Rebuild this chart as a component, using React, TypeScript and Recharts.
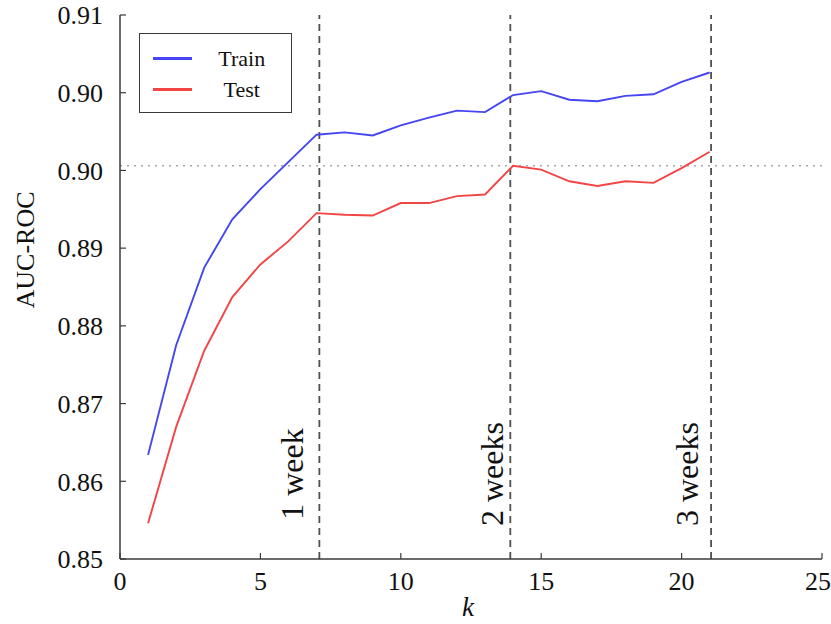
import { LineChart, Line, XAxis, YAxis, ReferenceLine, Legend } from "recharts";

// AUC-ROC against k (days of history)
const kValues = [1, 2, 3, 4, 5, 6, 7, 8, 9, 10, 11, 12, 13, 14, 15, 16, 17, 18, 19, 20, 21];
const trainAuc = [
  0.8634, 0.8775, 0.8875, 0.8937, 0.8976, 0.9011, 0.9046, 0.9049, 0.9045, 0.9058, 0.9068,
  0.9077, 0.9075, 0.9097, 0.9102, 0.9091, 0.9089, 0.9096, 0.9098, 0.9114, 0.9126,
];
const testAuc = [
  0.8546, 0.867, 0.8768, 0.8837, 0.8879, 0.8909, 0.8945, 0.8943, 0.8942, 0.8958, 0.8958,
  0.8967, 0.8969, 0.9006, 0.9001, 0.8986, 0.898, 0.8986, 0.8984, 0.9003, 0.9024,
];
const seriesNames = ["Train", "Test"];

const xTicks = [0, 5, 10, 15, 20, 25];
const yTicks = [0.85, 0.86, 0.87, 0.88, 0.89, 0.9, 0.91, 0.92];
const yTickLabels = ["0.85", "0.86", "0.87", "0.88", "0.89", "0.90", "0.90", "0.91"];

const weekPositions = [7.1, 13.9, 21.05];
const weekLabels = ["1 week", "2 weeks", "3 weeks"];
const weekLabelShift = [-17, -8, -13];
const baselineAuc = 0.9006;

const data = kValues.map((k, i) => ({ k, Train: trainAuc[i], Test: testAuc[i] }));

const FONT = "Liberation Serif";
const FRAME = "#3a3a3a";

// chart geometry, used to place the week captions next to their dashed lines
const W = 831;
const H = 624;
const MARGIN = { top: 15, right: 9, bottom: 0, left: 0 };
const Y_AXIS_W = 120;
const X_MAX = 25;
const plotLeft = MARGIN.left + Y_AXIS_W;
const plotWidth = W - MARGIN.right - plotLeft;

function LegendBox({ payload }: any) {
  const items = seriesNames
    .map((name) => (payload || []).find((p: any) => p.value === name))
    .filter(Boolean);
  return (
    <div
      style={{
        width: 153,
        height: 80,
        border: `1.5px solid ${FRAME}`,
        background: "#fff",
        paddingTop: 9,
        boxSizing: "border-box",
        fontFamily: FONT,
      }}
    >
      {items.map((p: any) => (
        <div key={p.value} style={{ display: "flex", alignItems: "center", height: 31 }}>
          <span style={{ marginLeft: 13, width: 40, height: 3, background: p.color }} />
          <span style={{ width: 100, textAlign: "center", fontSize: 22, color: "#111" }}>{p.value}</span>
        </div>
      ))}
    </div>
  );
}

export default function App() {
  return (
    <div style={{ position: "absolute", left: 0, top: 0, width: W, height: H, background: "#fff", fontFamily: FONT }}>
      <LineChart width={W} height={H} data={data} margin={MARGIN} style={{ fontFamily: FONT }}>
        <XAxis
          dataKey="k"
          type="number"
          domain={[0, X_MAX]}
          ticks={xTicks}
          height={65}
          tickSize={-6}
          tickMargin={19}
          axisLine={{ stroke: FRAME, strokeWidth: 1.5 }}
          tickLine={{ stroke: FRAME, strokeWidth: 1.2 }}
          tick={{ fontSize: 26, fill: "#111", fontFamily: FONT }}
          label={(props: any) => {
            const vb = props.viewBox;
            return (
              <text
                x={vb.x + vb.width / 2 - 3}
                y={616}
                textAnchor="middle"
                fontSize={27}
                fontStyle="italic"
                fontFamily={FONT}
                fill="#111"
              >
                k
              </text>
            );
          }}
        />
        <XAxis
          xAxisId="top"
          orientation="top"
          dataKey="k"
          type="number"
          domain={[0, X_MAX]}
          ticks={xTicks}
          height={0}
          tickSize={-6}
          tick={false}
          axisLine={{ stroke: FRAME, strokeWidth: 1.5 }}
          tickLine={{ stroke: FRAME, strokeWidth: 1.2 }}
        />
        <YAxis
          type="number"
          domain={[0.85, 0.92]}
          ticks={yTicks}
          width={Y_AXIS_W}
          tickSize={-6}
          tickMargin={23}
          tickFormatter={(_v: number, i: number) => yTickLabels[i]}
          axisLine={{ stroke: FRAME, strokeWidth: 1.5 }}
          tickLine={{ stroke: FRAME, strokeWidth: 1.2 }}
          tick={{ fontSize: 26, fill: "#111", fontFamily: FONT }}
          label={(props: any) => {
            const vb = props.viewBox;
            const cx = 25;
            const cy = vb.y + vb.height / 2 - 37;
            return (
              <text
                x={cx}
                y={cy}
                transform={`rotate(-90, ${cx}, ${cy})`}
                textAnchor="middle"
                dominantBaseline="central"
                fontSize={26}
                fontFamily={FONT}
                fill="#111"
              >
                AUC-ROC
              </text>
            );
          }}
        />
        <YAxis
          yAxisId="right"
          orientation="right"
          type="number"
          domain={[0.85, 0.92]}
          ticks={yTicks}
          width={0}
          tickSize={-6}
          tick={false}
          axisLine={{ stroke: FRAME, strokeWidth: 1.5 }}
          tickLine={{ stroke: FRAME, strokeWidth: 1.2 }}
        />
        <ReferenceLine y={baselineAuc} stroke="#a8a8a8" strokeWidth={1.3} strokeDasharray="2 5" />
        {weekPositions.map((pos) => (
          <ReferenceLine key={pos} x={pos} stroke="#505050" strokeWidth={1.8} strokeDasharray="7 5" />
        ))}
        <Line dataKey="Train" stroke="#4545f2" strokeWidth={1.9} dot={false} isAnimationActive={false} />
        <Line dataKey="Test" stroke="#f24545" strokeWidth={1.9} dot={false} isAnimationActive={false} />
        {/* invisible copy so the top and right frame axes get a scale */}
        <Line
          dataKey="Test"
          name="_frame"
          xAxisId="top"
          yAxisId="right"
          stroke="none"
          legendType="none"
          dot={false}
          activeDot={false}
          isAnimationActive={false}
        />
        <Legend
          layout="vertical"
          align="center"
          verticalAlign="middle"
          wrapperStyle={{ left: 139, top: 33, width: "auto", height: "auto" }}
          content={<LegendBox />}
        />
      </LineChart>
      {/* week captions as html so they keep the serif face */}
      {weekPositions.map((pos, i) => {
        const baseX = plotLeft + (pos / X_MAX) * plotWidth + weekLabelShift[i];
        return (
          <div
            key={weekLabels[i]}
            style={{
              position: "absolute",
              left: baseX - 10.8,
              top: 474,
              transform: "translate(-50%, -50%) rotate(-90deg)",
              fontFamily: FONT,
              fontSize: 32,
              lineHeight: 1,
              whiteSpace: "nowrap",
              color: "#111",
              pointerEvents: "none",
            }}
          >
            {weekLabels[i]}
          </div>
        );
      })}
    </div>
  );
}
